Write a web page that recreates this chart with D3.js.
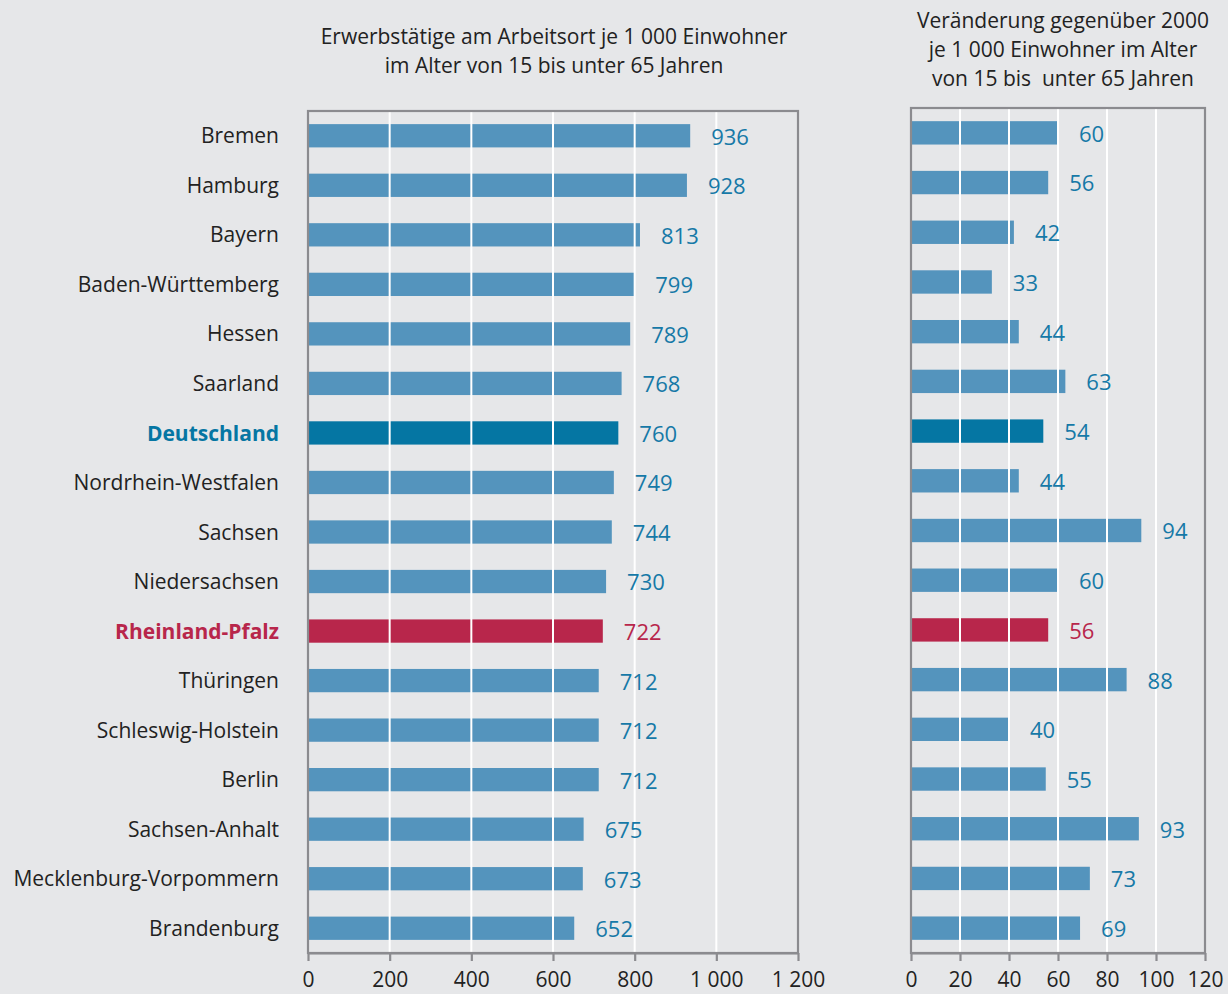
<!DOCTYPE html>
<html>
<head>
<meta charset="utf-8">
<script src="https://cdn.jsdelivr.net/npm/d3@7"></script>
<style>
  html, body { margin: 0; padding: 0; background: #e6e7e9; }
  svg { display: block; font-family: "Open Sans", "Noto Sans", sans-serif; }
</style>
</head>
<body>
<svg id="chart" width="1228" height="994"></svg>
<script>
// Bundesländer, sorted by workers per 1 000 inhabitants
const categories = [
  "Bremen", "Hamburg", "Bayern", "Baden-Württemberg", "Hessen", "Saarland",
  "Deutschland", "Nordrhein-Westfalen", "Sachsen", "Niedersachsen",
  "Rheinland-Pfalz", "Thüringen", "Schleswig-Holstein", "Berlin",
  "Sachsen-Anhalt", "Mecklenburg-Vorpommern", "Brandenburg"
];
// Erwerbstätige am Arbeitsort je 1 000 Einwohner (15 bis unter 65 Jahre)
const workers = [936, 928, 813, 799, 789, 768, 760, 749, 744, 730, 722, 712, 712, 712, 675, 673, 652];
// Veränderung gegenüber 2000
const change = [60, 56, 42, 33, 44, 63, 54, 44, 94, 60, 56, 88, 40, 55, 93, 73, 69];

const leftTicks = [0, 200, 400, 600, 800, 1000, 1200];
const leftTickLabels = ["0", "200", "400", "600", "800", "1 000", "1 200"];
const rightTicks = [0, 20, 40, 60, 80, 100, 120];
const rightTickLabels = ["0", "20", "40", "60", "80", "100", "120"];

const titleLeft = ["Erwerbstätige am Arbeitsort je 1 000 Einwohner", "im Alter von 15 bis unter 65 Jahren"];
const titleRight = ["Veränderung gegenüber 2000", "je 1 000 Einwohner im Alter", "von 15 bis  unter 65 Jahren"];

const highlight = { "Deutschland": "#0576a3", "Rheinland-Pfalz": "#b8264b" };
const barColor = "#5494bd";
const labelColor = "#1679a7";
const frameColor = "#8b8b8f";
const textColor = "#222222";

const svg = d3.select("#chart");

function panel(opts) {
  const { x0, x1, y0, y1, max, values, ticks, tickLabels } = opts;
  const x = d3.scaleLinear().domain([0, max]).range([x0, x1]);
  const y = d3.scaleBand().domain(categories).range([y0, y1])
    .paddingInner(0.53).paddingOuter(0.265);
  const g = svg.append("g");

  // bars
  g.selectAll("rect.bar").data(categories).join("rect")
    .attr("class", "bar")
    .attr("x", x(0))
    .attr("y", d => y(d))
    .attr("width", (d, i) => x(values[i]) - x(0))
    .attr("height", y.bandwidth())
    .attr("fill", d => highlight[d] || barColor);

  // white vertical gridlines on top of bars
  g.selectAll("line.grid").data(ticks.slice(1, -1)).join("line")
    .attr("class", "grid")
    .attr("x1", d => x(d)).attr("x2", d => x(d))
    .attr("y1", y0).attr("y2", y1)
    .attr("stroke", "#ffffff").attr("stroke-width", 2);

  // frame
  g.append("rect")
    .attr("x", x0).attr("y", y0)
    .attr("width", x1 - x0).attr("height", y1 - y0)
    .attr("fill", "none").attr("stroke", frameColor).attr("stroke-width", 2.2);

  // bottom axis
  const axis = d3.axisBottom(x).tickValues(ticks)
    .tickFormat((d, i) => tickLabels[i]).tickSize(8).tickPadding(11).tickSizeOuter(0);
  const ax = g.append("g").attr("transform", `translate(0,${y1})`).call(axis);
  ax.select(".domain").attr("stroke", frameColor).attr("stroke-width", 2.2);
  ax.selectAll(".tick line").attr("stroke", frameColor).attr("stroke-width", 2.2);
  ax.selectAll(".tick text").attr("fill", textColor)
    .style("font-size", "21px").style("font-family", "'Open Sans', sans-serif");

  // value labels
  g.selectAll("text.val").data(categories).join("text")
    .attr("class", "val")
    .attr("x", (d, i) => x(values[i]) + 21)
    .attr("y", d => y(d) + y.bandwidth() / 2 + 1)
    .attr("dy", "0.36em")
    .attr("fill", d => d === "Rheinland-Pfalz" ? highlight[d] : labelColor)
    .style("font-size", "22px")
    .text((d, i) => values[i]);

  return y;
}

const yLeft = panel({ x0: 308, x1: 798, y0: 111, y1: 953, max: 1200,
  values: workers, ticks: leftTicks, tickLabels: leftTickLabels });
panel({ x0: 911, x1: 1205, y0: 108, y1: 953, max: 120,
  values: change, ticks: rightTicks, tickLabels: rightTickLabels });

// category labels
svg.append("g").selectAll("text").data(categories).join("text")
  .attr("x", 279)
  .attr("y", d => yLeft(d) + yLeft.bandwidth() / 2)
  .attr("dy", "0.36em")
  .attr("text-anchor", "end")
  .attr("fill", d => highlight[d] || textColor)
  .style("font-weight", d => highlight[d] ? "bold" : "normal")
  .style("font-size", "21px")
  .text(d => d);

// panel titles
svg.append("g").selectAll("text").data(titleLeft).join("text")
  .attr("x", 554).attr("y", (d, i) => 44 + i * 29)
  .attr("text-anchor", "middle").attr("fill", textColor)
  .style("font-size", "21px").text(d => d);

svg.append("g").selectAll("text").data(titleRight).join("text")
  .attr("x", 1063).attr("y", (d, i) => 28 + i * 29)
  .attr("text-anchor", "middle").attr("fill", textColor)
  .style("font-size", "21px").style("white-space", "pre")
  .attr("xml:space", "preserve").text(d => d);
</script>
</body>
</html>
